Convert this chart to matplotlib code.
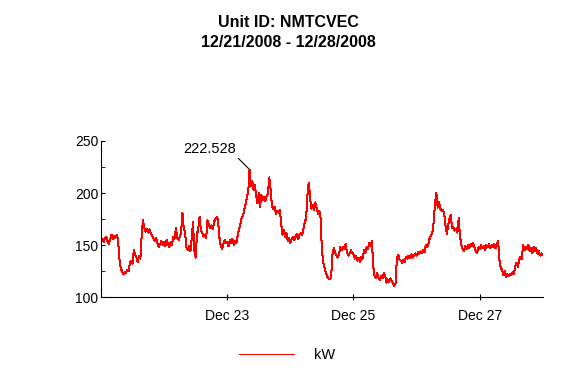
#!/usr/bin/env python3
"""
plot.py - kW trace for unit NMTCVEC, one week in December 2008
"""

import pandas as pd
import matplotlib.pyplot as plt
import matplotlib.dates as mdates

UNIT_ID = "NMTCVEC"
START = "2008-12-21 00:00"

# half-hourly kW readings, one list per day
dec21 = [152, 156, 153, 157, 158, 154, 151, 155, 160, 156, 159, 157,
         160, 156, 137, 128, 125, 122, 124, 123, 126, 125, 133, 135,
         132, 145, 141, 138, 134, 140, 137, 160, 174, 166, 163, 165,
         162, 165, 161, 159, 156, 154, 157, 152, 148, 151, 154, 150]
dec22 = [153, 149, 155, 151, 148, 153, 150, 158, 156, 166, 157, 155,
         158, 163, 181, 166, 162, 148, 145, 149, 144, 156, 172, 145,
         138, 160, 166, 177, 164, 162, 158, 160, 157, 174, 170, 166,
         169, 165, 172, 175, 177, 174, 158, 150, 146, 151, 155, 152]
dec23 = [153, 149, 155, 152, 156, 150, 154, 152, 160, 165, 170, 176,
         178, 184, 189, 196, 201, 222.528, 207, 212, 203, 208, 198, 190,
         200, 187, 198, 193, 196, 192, 197, 200, 215, 203, 188, 185,
         187, 180, 183, 181, 184, 171, 160, 165, 158, 162, 154, 157]
dec24 = [152, 156, 158, 155, 158, 161, 156, 160, 162, 160, 166, 172,
         176, 198, 210, 196, 185, 189, 184, 191, 186, 180, 183, 176,
         145, 134, 128, 124, 120, 118, 117, 119, 141, 147, 143, 140,
         138, 141, 148, 145, 148, 146, 151, 144, 140, 142, 145, 143]
dec25 = [141, 137, 140, 135, 138, 134, 139, 137, 145, 142, 148, 146,
         152, 149, 154, 130, 121, 118, 123, 119, 116, 120, 118, 123,
         121, 114, 117, 115, 118, 116, 113, 111, 113, 137, 141, 136,
         135, 133, 136, 134, 139, 137, 140, 138, 141, 138, 140, 142]
dec26 = [140, 143, 141, 144, 142, 145, 143, 150, 148, 151, 157, 159,
         162, 172, 190, 200, 186, 191, 185, 183, 184, 180, 168, 161,
         169, 175, 179, 166, 167, 164, 166, 162, 176, 158, 150, 146,
         144, 149, 146, 150, 147, 151, 149, 152, 148, 144, 142, 148]
dec27 = [146, 150, 147, 149, 145, 150, 148, 151, 147, 150, 148, 151,
         147, 150, 154, 135, 128, 126, 121, 125, 119, 122, 120, 122,
         121, 124, 122, 130, 133, 129, 136, 139, 137, 150, 145, 148,
         146, 150, 144, 147, 142, 148, 144, 147, 141, 144, 140, 142, 141]

kw = dec21 + dec22 + dec23 + dec24 + dec25 + dec26 + dec27
peak_label = "222.528"


def main():
    times = pd.date_range(START, periods=len(kw), freq="30min")
    df = pd.DataFrame({"time": times, "kW": kw})

    fig = plt.figure(figsize=(5.8, 3.8), dpi=100)
    plt.rcParams["font.family"] = ["Liberation Sans", "DejaVu Sans"]
    ax = fig.add_axes([0.174, 0.218, 0.762, 0.411])

    # crisp 1px trace like the original export
    ax.plot(df["time"], df["kW"], color="red", linewidth=0.72, label="kW",
            antialiased=False)

    ax.set_ylim(100, 250)
    ax.set_xlim(df["time"].iloc[0], df["time"].iloc[-1])
    ax.set_yticks([100, 150, 200, 250])
    ax.set_yticks([125, 175, 225], minor=True)
    ax.xaxis.set_major_locator(mdates.DayLocator(bymonthday=[23, 25, 27]))
    ax.xaxis.set_major_formatter(mdates.DateFormatter("%b %d"))

    for side in ["top", "right"]:
        ax.spines[side].set_visible(False)
    ax.tick_params(axis="y", which="both", direction="in", length=3,
                   labelsize=10, pad=2)
    ax.tick_params(axis="x", which="major", direction="inout", length=5,
                   labelsize=10, pad=6)

    # label the weekly peak
    ipk = df["kW"].idxmax()
    ax.annotate(peak_label, xy=(df["time"][ipk], df["kW"][ipk]),
                xytext=(-10, 10), textcoords="offset points",
                ha="right", va="bottom", fontsize=10.5,
                arrowprops=dict(arrowstyle="-", color="black", lw=0.8,
                                shrinkA=0, shrinkB=0, relpos=(1, 0)))

    fig.text(0.497, 0.94, f"Unit ID: {UNIT_ID}", ha="center", va="center",
             fontsize=11.5, fontweight="bold")
    fig.text(0.497, 0.888, "12/21/2008 - 12/28/2008", ha="center", va="center",
             fontsize=11.5, fontweight="bold")

    fig.legend(loc="center", bbox_to_anchor=(0.495, 0.066), frameon=False,
               fontsize=10.5, handlelength=3.8, handletextpad=1.4)

    fig.savefig("out.png", dpi=100)


if __name__ == "__main__":
    main()
